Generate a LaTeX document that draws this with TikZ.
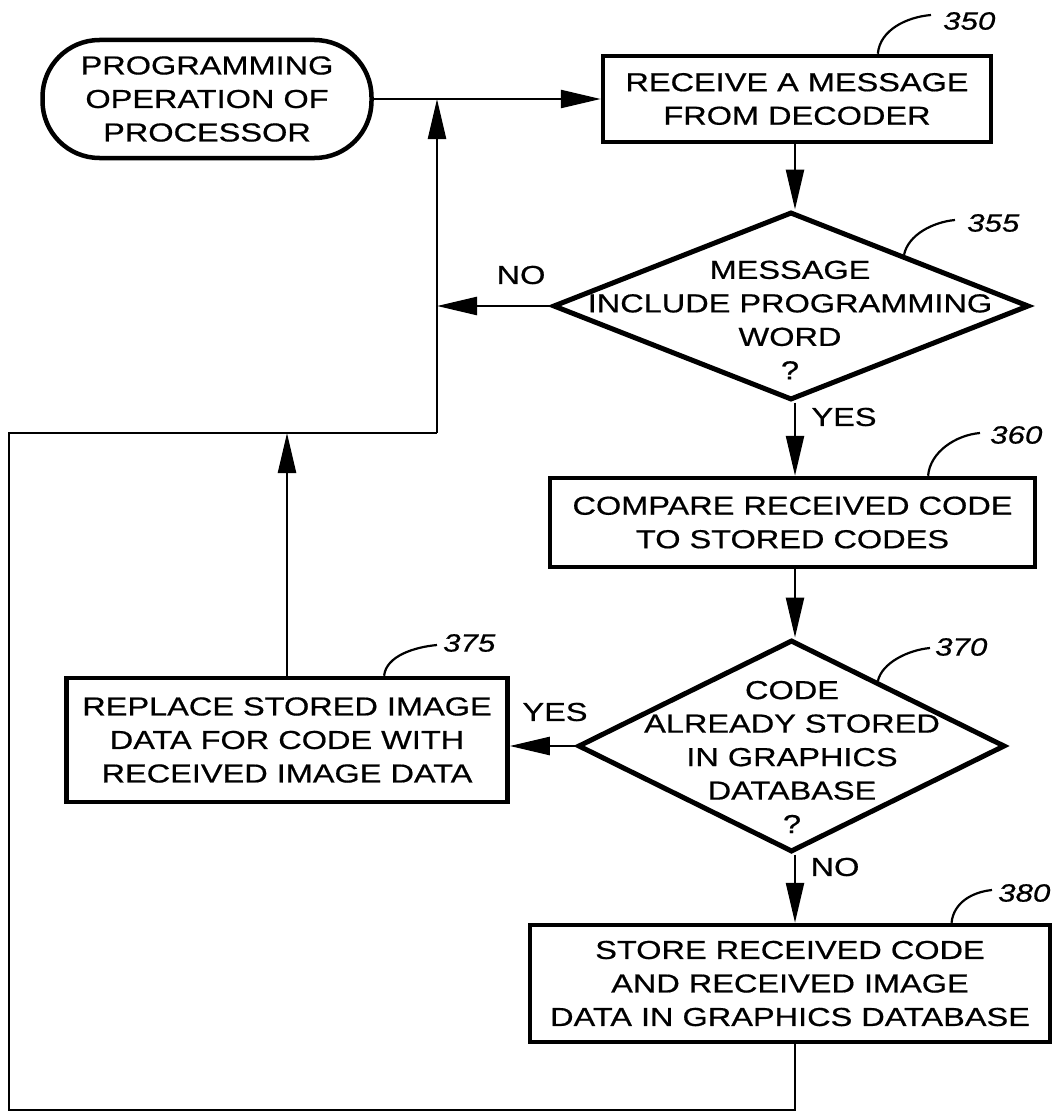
\documentclass[tikz,border=0pt]{standalone}
\usepackage{fontspec}
\newfontfamily\pfont{Liberation Sans}[FakeStretch=1.25, FakeBold=0.6]
\usetikzlibrary{arrows.meta,shapes.geometric,calc}
\begin{document}
\begin{tikzpicture}[x=1pt,y=-1pt]
\tikzset{
  txt/.style={font=\pfont\fontsize{26}{33.5}\selectfont, align=center, inner sep=0pt},
  procbox/.style={txt, draw, line width=4.5pt, rectangle},
  termbox/.style={txt, draw, line width=4.5pt, rectangle, rounded corners=57pt},
  decis/.style={draw, line width=5pt, diamond, inner sep=0pt},
  numlbl/.style={font=\pfont\itshape\fontsize{25}{25}\selectfont, inner sep=0pt, anchor=west},
  yn/.style={font=\pfont\fontsize{26}{26}\selectfont, inner sep=0pt},
  flow/.style={line width=2.5pt, -{Triangle[length=40pt,width=18pt]}},
  plain/.style={line width=2pt},
  leader/.style={line width=2.2pt},
}
\useasboundingbox (0,0) rectangle (1057,1113);

% nodes
\node[termbox, minimum width=329pt, minimum height=118pt] (term) at (207,99)
  {PROGRAMMING\\OPERATION OF\\PROCESSOR};
\node[procbox, minimum width=388pt, minimum height=86pt] (b350) at (797,99)
  {RECEIVE A MESSAGE\\FROM DECODER};
\node[decis, minimum width=476pt, minimum height=188pt] (d355) at (791,306) {};
\node[txt] (t355) at (790,320) {MESSAGE\\INCLUDE PROGRAMMING\\WORD\\?};
\node[procbox, minimum width=485pt, minimum height=89pt] (b360) at (792.5,522.5)
  {COMPARE RECEIVED CODE\\TO STORED CODES};
\node[decis, minimum width=427pt, minimum height=212pt] (d370) at (791.5,746) {};
\node[txt] (t370) at (792,757) {CODE\\ALREADY STORED\\IN GRAPHICS\\DATABASE\\?};
\node[procbox, minimum width=441pt, minimum height=124pt] (b375) at (287,740)
  {REPLACE STORED IMAGE\\DATA FOR CODE WITH\\RECEIVED IMAGE DATA};
\node[procbox, minimum width=520pt, minimum height=117pt] (b380) at (790,983.5)
  {STORE RECEIVED CODE\\AND RECEIVED IMAGE\\DATA IN GRAPHICS DATABASE};

% reference numerals
\node[numlbl] (l350) at (943,21) {350};
\node[numlbl] (l355) at (967,223) {355};
\node[numlbl] (l360) at (990,435) {360};
\node[numlbl] (l370) at (935,647) {370};
\node[numlbl] (l375) at (443,643) {375};
\node[numlbl] (l380) at (998,893) {380};

% yes/no labels
\node[yn] (no1) at (521,275) {NO};
\node[yn] (yes1) at (844,417) {YES};
\node[yn] (yes2) at (555,712) {YES};
\node[yn] (no2) at (835,867) {NO};

% helper coordinates
\coordinate (col) at (795,0);
\coordinate (fbjoin) at (437,99);
\coordinate (fbtop) at (437,433);
\coordinate (c2) at (9,1110);
\coordinate (c3) at (9,433);

% leaders
\draw[leader] ($(b350.north west)!0.706!(b350.north east)$) .. controls +(2,-24) and +(-24,2) .. ([shift={(-12,-6)}]l350.west);
\draw[leader] ($(d355.north)!0.47!(d355.east)$) .. controls +(4,-20) and +(-22,2) .. ([shift={(-12,-3)}]l355.west);
\draw[leader] ($(b360.north west)!0.777!(b360.north east)$) .. controls +(2,-24) and +(-24,2) .. ([shift={(-10,-2)}]l360.west);
\draw[leader] ($(d370.north)!0.40!(d370.east)$) .. controls +(4,-18) and +(-22,2) .. ([shift={(-5,1)}]l370.west);
\draw[leader] ($(b375.north west)!0.718!(b375.north east)$) .. controls +(2,-20) and +(-22,2) .. ([shift={(-6,2)}]l375.west);
\draw[leader] ($(b380.north west)!0.808!(b380.north east)$) .. controls +(2,-20) and +(-20,2) .. ([shift={(-6,-3)}]l380.west);

% flow connectors
\draw[flow] (term.east) -- (b350.west);
\draw[flow] (b350.south -| col) -- (d355.north -| col);
\draw[flow] (d355.west) -- (d355.west -| fbjoin);
\draw[flow] (d355.south -| col) -- (b360.north -| col);
\draw[flow] (b360.south -| col) -- (d370.north -| col);
\draw[flow] (d370.west) -- (d370.west -| b375.east);
\draw[flow] (d370.south -| col) -- (b380.north -| col);
\draw[flow] (b375.north) -- (b375.north |- fbtop);
\draw[plain] (b380.south -| col) |- (c2) -- (c3) -- (fbtop);
\draw[flow] (fbtop) -- (fbjoin);
\end{tikzpicture}
\end{document}
